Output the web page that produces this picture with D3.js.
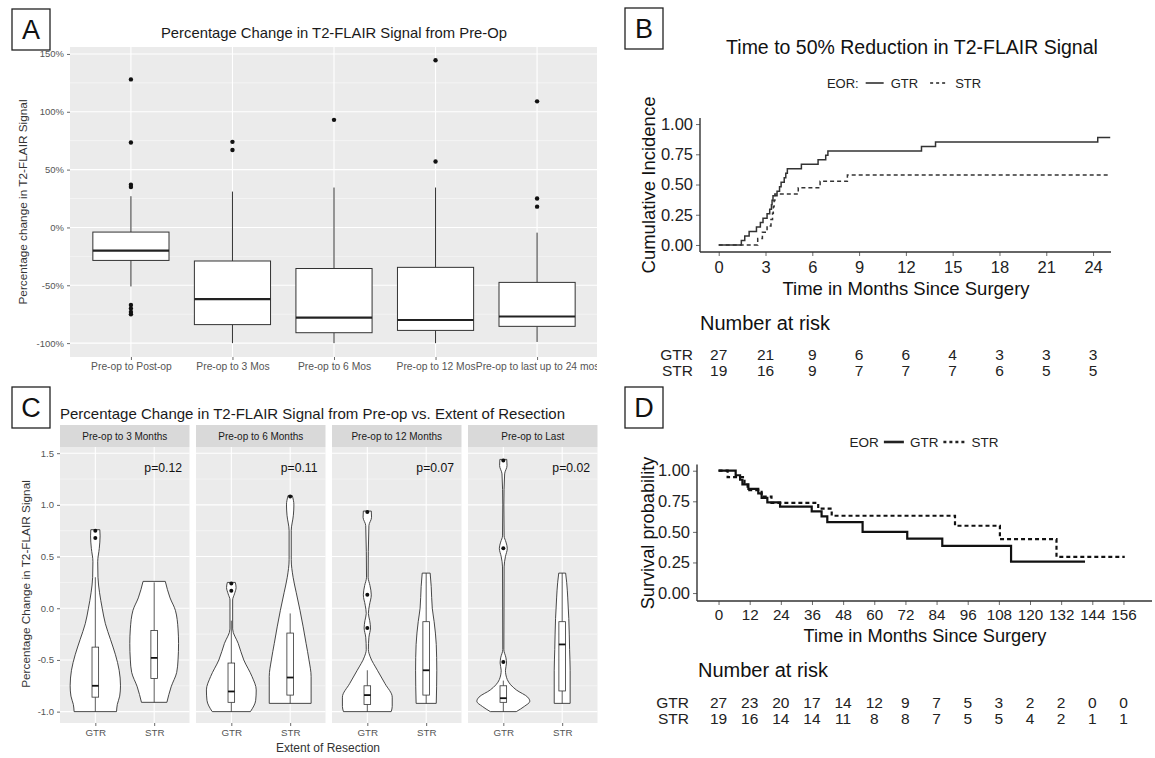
<!DOCTYPE html>
<html>
<head>
<meta charset="utf-8">
<script src="https://cdn.jsdelivr.net/npm/d3@7"></script>
<style>
  body { margin: 0; background: #fff; }
  svg { display: block; font-family: "Liberation Sans", Arial, Helvetica, sans-serif; }
</style>
</head>
<body>
<div id="chart"></div>
<script>
// ---------- Panel A: boxplots ----------
const aCats = ["Pre-op to Post-op", "Pre-op to 3 Mos", "Pre-op to 6 Mos", "Pre-op to 12 Mos", "Pre-op to last up to 24 mos"];
const aLow  = [-51, -100, -100, -100, -99];
const aQ1   = [-28.5, -84, -91, -89, -85.5];
const aMed  = [-20, -62, -78, -80, -77];
const aQ3   = [-4, -29, -35.5, -34.5, -47.5];
const aHigh = [27, 31, 34.5, 34.5, -4.5];
const aOut  = [[128, 73.5, 37, 35, -67, -70, -73, -75], [74, 67], [93], [144.5, 57], [109, 25, 18]];
const aTicks = [-100, -50, 0, 50, 100, 150];

// ---------- Panel B: cumulative incidence ----------
const bTicks = [0, 3, 6, 9, 12, 15, 18, 21, 24];
const bRiskGTR = [27, 21, 9, 6, 6, 4, 3, 3, 3];
const bRiskSTR = [19, 16, 9, 7, 7, 7, 6, 5, 5];
const bGTR = [[0, 0], [1.45, 0.037], [1.67, 0.074], [1.95, 0.111], [2.42, 0.148], [2.67, 0.185], [2.84, 0.222],
  [3.1, 0.259], [3.27, 0.296], [3.38, 0.333], [3.42, 0.37], [3.48, 0.407], [3.74, 0.444], [3.9, 0.481],
  [4.0, 0.519], [4.2, 0.556], [4.3, 0.593], [4.4, 0.63], [5.3, 0.667], [6.37, 0.704], [6.86, 0.741],
  [7.0, 0.778], [13.0, 0.815], [13.9, 0.852], [24.3, 0.889], [25.1, 0.889]];
const bSTR = [[0, 0], [2.5, 0.053], [2.8, 0.105], [3.1, 0.158], [3.35, 0.211], [3.45, 0.263], [3.5, 0.316],
  [3.55, 0.368], [3.6, 0.421], [5.1, 0.474], [6.5, 0.526], [8.25, 0.579], [25.1, 0.579]];

// ---------- Panel C: violins ----------
const cFacets = ["Pre-op to 3 Months", "Pre-op to 6 Months", "Pre-op to 12 Months", "Pre-op to Last"];
const cGroups = ["GTR", "STR"];
const cPvals = ["p=0.12", "p=0.11", "p=0.07", "p=0.02"];
const cYTicks = [-1, -0.5, 0, 0.5, 1, 1.5];
// outline: [value, relative density]
const cViolinGTR = [
  [[0.76, 0.17], [0.7, 0.18], [0.58, 0.15], [0.45, 0.09], [0.3, 0.1], [0.15, 0.16], [0.0, 0.26], [-0.15, 0.38],
   [-0.3, 0.57], [-0.45, 0.76], [-0.6, 0.9], [-0.75, 0.95], [-0.85, 0.92], [-0.93, 0.83], [-1.0, 0.8]],
  [[0.25, 0.15], [0.2, 0.18], [0.14, 0.12], [0.08, 0.05], [-0.2, 0.05], [-0.34, 0.26], [-0.5, 0.47],
   [-0.66, 0.78], [-0.79, 0.94], [-0.89, 0.92], [-1.0, 0.72]],
  [[0.94, 0.15], [0.88, 0.16], [0.8, 0.06], [0.3, 0.03], [0.22, 0.1], [0.13, 0.15], [0.03, 0.08], [-0.05, 0.04],
   [-0.12, 0.09], [-0.19, 0.12], [-0.28, 0.06], [-0.4, 0.04], [-0.47, 0.11], [-0.6, 0.38], [-0.73, 0.67],
   [-0.86, 0.94], [-0.95, 0.94], [-1.0, 0.9]],
  [[1.44, 0.13], [1.38, 0.14], [1.3, 0.05], [1.0, 0.02], [0.7, 0.03], [0.64, 0.1], [0.58, 0.15], [0.5, 0.08],
   [0.4, 0.03], [-0.4, 0.02], [-0.48, 0.1], [-0.53, 0.12], [-0.6, 0.08], [-0.69, 0.15], [-0.79, 0.49],
   [-0.86, 0.92], [-0.9, 1.0], [-0.95, 0.79], [-1.0, 0.49]]
];
const cViolinSTR = [
  [[0.26, 0.42], [0.1, 0.6], [-0.02, 0.8], [-0.2, 0.9], [-0.34, 0.92], [-0.5, 0.9], [-0.62, 0.85], [-0.76, 0.64], [-0.91, 0.48]],
  [[1.09, 0.08], [1.0, 0.14], [0.9, 0.12], [0.75, 0.04], [0.47, 0.04], [0.3, 0.11], [0.15, 0.23], [-0.02, 0.37],
   [-0.18, 0.49], [-0.34, 0.6], [-0.5, 0.71], [-0.66, 0.79], [-0.82, 0.79], [-0.92, 0.79]],
  [[0.34, 0.15], [0.21, 0.19], [0.0, 0.23], [-0.13, 0.3], [-0.35, 0.38], [-0.6, 0.4], [-0.92, 0.38]],
  [[0.34, 0.13], [0.25, 0.17], [0.1, 0.21], [-0.1, 0.25], [-0.4, 0.28], [-0.6, 0.3], [-0.92, 0.3]]
];
// [low, q1, median, q3, high]
const cBoxGTR = [[-1, -0.86, -0.75, -0.376, 0.3], [-1, -0.91, -0.805, -0.53, -0.12], [-1, -0.93, -0.84, -0.75, -0.6], [-1, -0.91, -0.87, -0.75, -0.7]];
const cBoxSTR = [[-0.91, -0.68, -0.48, -0.215, 0.25], [-0.92, -0.84, -0.67, -0.24, -0.05], [-0.92, -0.84, -0.6, -0.13, 0.34], [-0.92, -0.8, -0.35, -0.13, 0.34]];
const cOutGTR = [[0.75, 0.68], [0.24, 0.17], [0.93, 0.13, -0.19], [1.43, 0.58, -0.52]];
const cOutSTR = [[], [1.08], [], []];

// ---------- Panel D: survival ----------
const dTicks = [0, 12, 24, 36, 48, 60, 72, 84, 96, 108, 120, 132, 144, 156];
const dRiskGTR = [27, 23, 20, 17, 14, 12, 9, 7, 5, 3, 2, 2, 0, 0];
const dRiskSTR = [19, 16, 14, 14, 11, 8, 8, 7, 5, 5, 4, 2, 1, 1];
const dGTR = [[0, 1], [6.6, 0.963], [8.3, 0.926], [9.2, 0.889], [11.5, 0.852], [15.3, 0.815], [16.6, 0.778],
  [18.8, 0.741], [23.7, 0.706], [35.9, 0.667], [39.7, 0.627], [41.9, 0.58], [55.5, 0.5], [72.7, 0.445],
  [86.2, 0.385], [112.7, 0.257], [141.2, 0.257]];
const dSTR = [[0, 1], [3.5, 0.947], [10.0, 0.895], [11.2, 0.842], [16.6, 0.789], [20.4, 0.737], [38.4, 0.69],
  [43.6, 0.632], [91.1, 0.55], [108.4, 0.44], [130.2, 0.295], [156.5, 0.295]];

const W = 1155, H = 758;
const svg = d3.select("#chart").append("svg").attr("width", W).attr("height", H);
svg.append("rect").attr("width", W).attr("height", H).attr("fill", "#fff");

const tickGrey = "#555";

//Рамка с буквой панели
function panelLabel(x, y, txt) {
  svg.append("rect").attr("x", x).attr("y", y).attr("width", 38).attr("height", 41)
    .attr("fill", "#fff").attr("stroke", "#222").attr("stroke-width", 1.3);
  svg.append("text").attr("x", x + 19).attr("y", y + 30).attr("text-anchor", "middle")
    .attr("font-size", 27).attr("fill", "#111").text(txt);
}

function styleAxis(g, size, color) {
  g.select(".domain").remove();
  g.selectAll(".tick line").attr("stroke", "#444").attr("stroke-width", 0.8);
  g.selectAll(".tick text").attr("font-size", size).attr("fill", color)
    .attr("font-family", "\"Liberation Sans\", Arial, sans-serif");
}

//Легенда в строку, центрируется по cx
function legendRow(g, items, cx, cy, fs) {
  const row = g.append("g").attr("font-size", fs).attr("fill", "#222");
  let pos = 0;
  items.forEach(it => {
    pos += it.gap || 0;
    if (it.text) {
      const t = row.append("text").attr("x", pos).attr("y", cy).attr("dy", "0.35em").text(it.text);
      pos += t.node().getComputedTextLength();
    } else {
      row.append("line").attr("x1", pos).attr("x2", pos + it.len).attr("y1", cy).attr("y2", cy)
        .attr("stroke", "#222").attr("stroke-width", it.width).attr("stroke-dasharray", it.dash || null);
      pos += it.len;
    }
  });
  row.attr("transform", `translate(${cx - pos / 2},0)`);
}

// ======================= Panel A =======================
const ax = d3.scalePoint().domain(aCats).range([70, 598]).padding(0.6);
const ay = d3.scaleLinear().domain([-112, 156]).range([357, 47]);
svg.append("clipPath").attr("id", "clipA").append("rect").attr("x", 0).attr("y", 0).attr("width", 597).attr("height", 385);
const gA = svg.append("g").attr("clip-path", "url(#clipA)");
gA.append("rect").attr("x", 70).attr("y", 47).attr("width", 527).attr("height", 310).attr("fill", "#ebebeb");
gA.selectAll(".aminor").data([-75, -25, 25, 75, 125]).join("line")
  .attr("x1", 70).attr("x2", 597).attr("y1", d => ay(d)).attr("y2", d => ay(d))
  .attr("stroke", "#fafafa").attr("stroke-width", 0.6);
gA.selectAll(".amajor").data(aTicks).join("line")
  .attr("x1", 70).attr("x2", 597).attr("y1", d => ay(d)).attr("y2", d => ay(d))
  .attr("stroke", "#fff").attr("stroke-width", 1.1);
gA.selectAll(".avert").data(aCats).join("line")
  .attr("x1", d => ax(d)).attr("x2", d => ax(d)).attr("y1", 47).attr("y2", 357)
  .attr("stroke", "#fff").attr("stroke-width", 1.1);

const aBoxHalf = ax.step() * 0.375;
aCats.forEach((c, i) => {
  const cx = ax(c);
  const g = gA.append("g");
  g.append("line").attr("x1", cx).attr("x2", cx).attr("y1", ay(aHigh[i])).attr("y2", ay(aQ3[i]))
    .attr("stroke", "#333").attr("stroke-width", 1);
  g.append("line").attr("x1", cx).attr("x2", cx).attr("y1", ay(aQ1[i])).attr("y2", ay(aLow[i]))
    .attr("stroke", "#333").attr("stroke-width", 1);
  g.append("rect").attr("x", cx - aBoxHalf).attr("width", aBoxHalf * 2)
    .attr("y", ay(aQ3[i])).attr("height", ay(aQ1[i]) - ay(aQ3[i]))
    .attr("fill", "#fff").attr("stroke", "#333").attr("stroke-width", 1);
  g.append("line").attr("x1", cx - aBoxHalf).attr("x2", cx + aBoxHalf).attr("y1", ay(aMed[i])).attr("y2", ay(aMed[i]))
    .attr("stroke", "#222").attr("stroke-width", 2.2);
  g.selectAll("circle").data(aOut[i]).join("circle")
    .attr("cx", cx).attr("cy", d => ay(d)).attr("r", 2.2).attr("fill", "#111");
});

const aLeft = gA.append("g").attr("transform", "translate(70,0)")
  .call(d3.axisLeft(ay).tickValues(aTicks).tickFormat(d => d + "%").tickSize(3).tickPadding(3));
styleAxis(aLeft, 9.5, tickGrey);
const aBottom = gA.append("g").attr("transform", "translate(0,357)")
  .call(d3.axisBottom(ax).tickSize(3).tickPadding(3));
styleAxis(aBottom, 10.3, tickGrey);

gA.append("text").attr("x", 334).attr("y", 38).attr("text-anchor", "middle")
  .attr("font-size", 14.8).attr("fill", "#1a1a1a").text("Percentage Change in T2-FLAIR Signal from Pre-Op");
gA.append("text").attr("transform", "translate(27,202) rotate(-90)").attr("text-anchor", "middle")
  .attr("font-size", 11.8).attr("fill", "#333").text("Percentage change in T2-FLAIR Signal");
panelLabel(12, 9, "A");

// ======================= Panel B =======================
const bx = d3.scaleLinear().domain([-1.2, 25.15]).range([700, 1111]);
const by = d3.scaleLinear().domain([-0.058, 1.05]).range([252, 118]);
const gB = svg.append("g");
const stepLineB = d3.line().curve(d3.curveStepAfter).x(d => bx(d[0])).y(d => by(d[1]));
gB.append("path").datum(bSTR).attr("d", stepLineB).attr("fill", "none")
  .attr("stroke", "#333").attr("stroke-width", 1.5).attr("stroke-dasharray", "4,3");
gB.append("path").datum(bGTR).attr("d", stepLineB).attr("fill", "none")
  .attr("stroke", "#333").attr("stroke-width", 1.5);

const bLeft = gB.append("g").attr("transform", "translate(700,0)")
  .call(d3.axisLeft(by).tickValues([0, 0.25, 0.5, 0.75, 1]).tickFormat(d => d.toFixed(2)).tickSize(4).tickPadding(3));
styleAxis(bLeft, 16.5, "#222");
const bBottom = gB.append("g").attr("transform", "translate(0,252)")
  .call(d3.axisBottom(bx).tickValues(bTicks).tickSize(4).tickPadding(5));
styleAxis(bBottom, 16.5, "#222");
gB.append("line").attr("x1", 700).attr("x2", 700).attr("y1", 118).attr("y2", 252).attr("stroke", "#333").attr("stroke-width", 1.4);
gB.append("line").attr("x1", 700).attr("x2", 1111).attr("y1", 252).attr("y2", 252).attr("stroke", "#333").attr("stroke-width", 1.4);

gB.append("text").attr("x", 912).attr("y", 54).attr("text-anchor", "middle")
  .attr("font-size", 19.5).attr("fill", "#111").text("Time to 50% Reduction in T2-FLAIR Signal");
gB.append("text").attr("x", 906).attr("y", 295).attr("text-anchor", "middle")
  .attr("font-size", 18.5).attr("fill", "#111").text("Time in Months Since Surgery");
gB.append("text").attr("transform", "translate(655,185) rotate(-90)").attr("text-anchor", "middle")
  .attr("font-size", 18.5).attr("fill", "#111").text("Cumulative Incidence");

legendRow(gB, [
  { text: "EOR:" }, { gap: 7, len: 18, width: 1.5 }, { gap: 7, text: "GTR" },
  { gap: 12, len: 18, width: 1.5, dash: "3,3" }, { gap: 7, text: "STR" }
], 904, 83, 13);

// risk table
gB.append("text").attr("x", 700).attr("y", 330).attr("font-size", 20).attr("fill", "#111").text("Number at risk");
[["GTR", bRiskGTR, 354], ["STR", bRiskSTR, 370]].forEach(([lab, vals, yy]) => {
  gB.append("text").attr("x", 693).attr("y", yy + 5.5).attr("text-anchor", "end").attr("font-size", 15.5).attr("fill", "#222").text(lab);
  gB.selectAll(null).data(vals).join("text")
    .attr("x", (d, i) => bx(bTicks[i])).attr("y", yy + 5.5).attr("text-anchor", "middle")
    .attr("font-size", 15.5).attr("fill", "#222").text(d => d);
});
panelLabel(625, 8, "B");

// ======================= Panel C =======================
const cF = d3.scaleBand().domain(cFacets).range([60, 597.5]).paddingInner(6.5 / 136).paddingOuter(0);
const cx = d3.scalePoint().domain(cGroups).range([0, cF.bandwidth()]).padding(0.6);
const cy = d3.scaleLinear().domain([-1.11, 1.56]).range([723, 447]);
const cw = d3.scaleLinear().domain([0, 1]).range([0, 26.5]);
const gC = svg.append("g");
const violinArea = d3.area().curve(d3.curveMonotoneY);

cFacets.forEach((f, fi) => {
  const x0 = cF(f), bw = cF.bandwidth();
  const g = gC.append("g").attr("transform", `translate(${x0},0)`);
  g.append("rect").attr("x", 0).attr("y", 425).attr("width", bw).attr("height", 22).attr("fill", "#d9d9d9");
  g.append("text").attr("x", bw / 2).attr("y", 439.5).attr("text-anchor", "middle")
    .attr("font-size", 10).attr("fill", "#1a1a1a").text(f);
  g.append("rect").attr("x", 0).attr("y", 447).attr("width", bw).attr("height", 276).attr("fill", "#ebebeb");
  g.selectAll(".cminor").data([-0.75, -0.25, 0.25, 0.75, 1.25]).join("line")
    .attr("x1", 0).attr("x2", bw).attr("y1", d => cy(d)).attr("y2", d => cy(d))
    .attr("stroke", "#fafafa").attr("stroke-width", 0.6);
  g.selectAll(".cmajor").data(cYTicks).join("line")
    .attr("x1", 0).attr("x2", bw).attr("y1", d => cy(d)).attr("y2", d => cy(d))
    .attr("stroke", "#fff").attr("stroke-width", 1.1);
  g.selectAll(".cvert").data(cGroups).join("line")
    .attr("x1", d => cx(d)).attr("x2", d => cx(d)).attr("y1", 447).attr("y2", 723)
    .attr("stroke", "#fff").attr("stroke-width", 1.1);

  [["GTR", cViolinGTR[fi], cBoxGTR[fi], cOutGTR[fi]], ["STR", cViolinSTR[fi], cBoxSTR[fi], cOutSTR[fi]]]
    .forEach(([grp, prof, box, outs]) => {
      const c = cx(grp);
      violinArea.y(d => cy(d[0])).x0(d => c - cw(d[1])).x1(d => c + cw(d[1]));
      g.append("path").datum(prof).attr("d", violinArea)
        .attr("fill", "#fff").attr("stroke", "#333").attr("stroke-width", 0.9);
      const hw = 3.3;
      g.append("line").attr("x1", c).attr("x2", c).attr("y1", cy(box[4])).attr("y2", cy(box[3]))
        .attr("stroke", "#333").attr("stroke-width", 0.8);
      g.append("line").attr("x1", c).attr("x2", c).attr("y1", cy(box[1])).attr("y2", cy(box[0]))
        .attr("stroke", "#333").attr("stroke-width", 0.8);
      g.append("rect").attr("x", c - hw).attr("width", hw * 2).attr("y", cy(box[3]))
        .attr("height", cy(box[1]) - cy(box[3])).attr("fill", "#fff").attr("stroke", "#333").attr("stroke-width", 0.8);
      g.append("line").attr("x1", c - hw).attr("x2", c + hw).attr("y1", cy(box[2])).attr("y2", cy(box[2]))
        .attr("stroke", "#111").attr("stroke-width", 1.8);
      g.selectAll(null).data(outs).join("circle")
        .attr("cx", c).attr("cy", d => cy(d)).attr("r", 2).attr("fill", "#111");
    });

  g.append("text").attr("x", cx("STR") + 9).attr("y", cy(1.36)).attr("dy", "0.35em").attr("text-anchor", "middle")
    .attr("font-size", 12.2).attr("fill", "#111").text(cPvals[fi]);

  const bot = g.append("g").attr("transform", "translate(0,723)")
    .call(d3.axisBottom(cx).tickSize(3).tickPadding(3));
  styleAxis(bot, 9.8, tickGrey);
});

const cLeft = gC.append("g").attr("transform", "translate(60,0)")
  .call(d3.axisLeft(cy).tickValues(cYTicks).tickFormat(d => d.toFixed(1)).tickSize(3).tickPadding(3));
styleAxis(cLeft, 9.5, tickGrey);

gC.append("text").attr("x", 60).attr("y", 418.5).attr("font-size", 15).attr("fill", "#1a1a1a")
  .text("Percentage Change in T2-FLAIR Signal from Pre-op vs. Extent of Resection");
gC.append("text").attr("x", 328).attr("y", 752).attr("text-anchor", "middle").attr("font-size", 12)
  .attr("fill", "#333").text("Extent of Resection");
gC.append("text").attr("transform", "translate(30,584) rotate(-90)").attr("text-anchor", "middle")
  .attr("font-size", 11.8).attr("fill", "#333").text("Percentage Change in T2-FLAIR Signal");
panelLabel(12, 387, "C");

// ======================= Panel D =======================
const dx = d3.scaleLinear().domain([-8.3, 167]).range([697, 1152]);
const dy = d3.scaleLinear().domain([-0.065, 1.05]).range([601, 464.6]);
const gD = svg.append("g");
const stepLineD = d3.line().curve(d3.curveStepAfter).x(d => dx(d[0])).y(d => dy(d[1]));
gD.append("path").datum(dSTR).attr("d", stepLineD).attr("fill", "none")
  .attr("stroke", "#111").attr("stroke-width", 2.2).attr("stroke-dasharray", "4,3");
gD.append("path").datum(dGTR).attr("d", stepLineD).attr("fill", "none")
  .attr("stroke", "#111").attr("stroke-width", 2.2);

const dLeft = gD.append("g").attr("transform", "translate(697,0)")
  .call(d3.axisLeft(dy).tickValues([0, 0.25, 0.5, 0.75, 1]).tickFormat(d => d.toFixed(2)).tickSize(4).tickPadding(3));
styleAxis(dLeft, 16.5, "#222");
const dBottom = gD.append("g").attr("transform", "translate(0,601)")
  .call(d3.axisBottom(dx).tickValues(dTicks).tickSize(4).tickPadding(4));
styleAxis(dBottom, 15.2, "#222");
gD.append("line").attr("x1", 697).attr("x2", 697).attr("y1", 464.6).attr("y2", 601).attr("stroke", "#333").attr("stroke-width", 1.4);
gD.append("line").attr("x1", 697).attr("x2", 1152).attr("y1", 601).attr("y2", 601).attr("stroke", "#333").attr("stroke-width", 1.4);

gD.append("text").attr("x", 925).attr("y", 641.5).attr("text-anchor", "middle")
  .attr("font-size", 18.2).attr("fill", "#111").text("Time in Months Since Surgery");
gD.append("text").attr("transform", "translate(654,533) rotate(-90)").attr("text-anchor", "middle")
  .attr("font-size", 18.2).attr("fill", "#111").text("Survival probability");

legendRow(gD, [
  { text: "EOR" }, { gap: 5, len: 20, width: 2.6 }, { gap: 6, text: "GTR" },
  { gap: 5, len: 22, width: 2.6, dash: "3,3" }, { gap: 6, text: "STR" }
], 924, 442, 13.5);

gD.append("text").attr("x", 698).attr("y", 677).attr("font-size", 20).attr("fill", "#111").text("Number at risk");
[["GTR", dRiskGTR, 702], ["STR", dRiskSTR, 718]].forEach(([lab, vals, yy]) => {
  gD.append("text").attr("x", 689).attr("y", yy + 5.5).attr("text-anchor", "end").attr("font-size", 15.5).attr("fill", "#222").text(lab);
  gD.selectAll(null).data(vals).join("text")
    .attr("x", (d, i) => dx(dTicks[i])).attr("y", yy + 5.5).attr("text-anchor", "middle")
    .attr("font-size", 15.5).attr("fill", "#222").text(d => d);
});
panelLabel(625, 387, "D");
</script>
</body>
</html>
